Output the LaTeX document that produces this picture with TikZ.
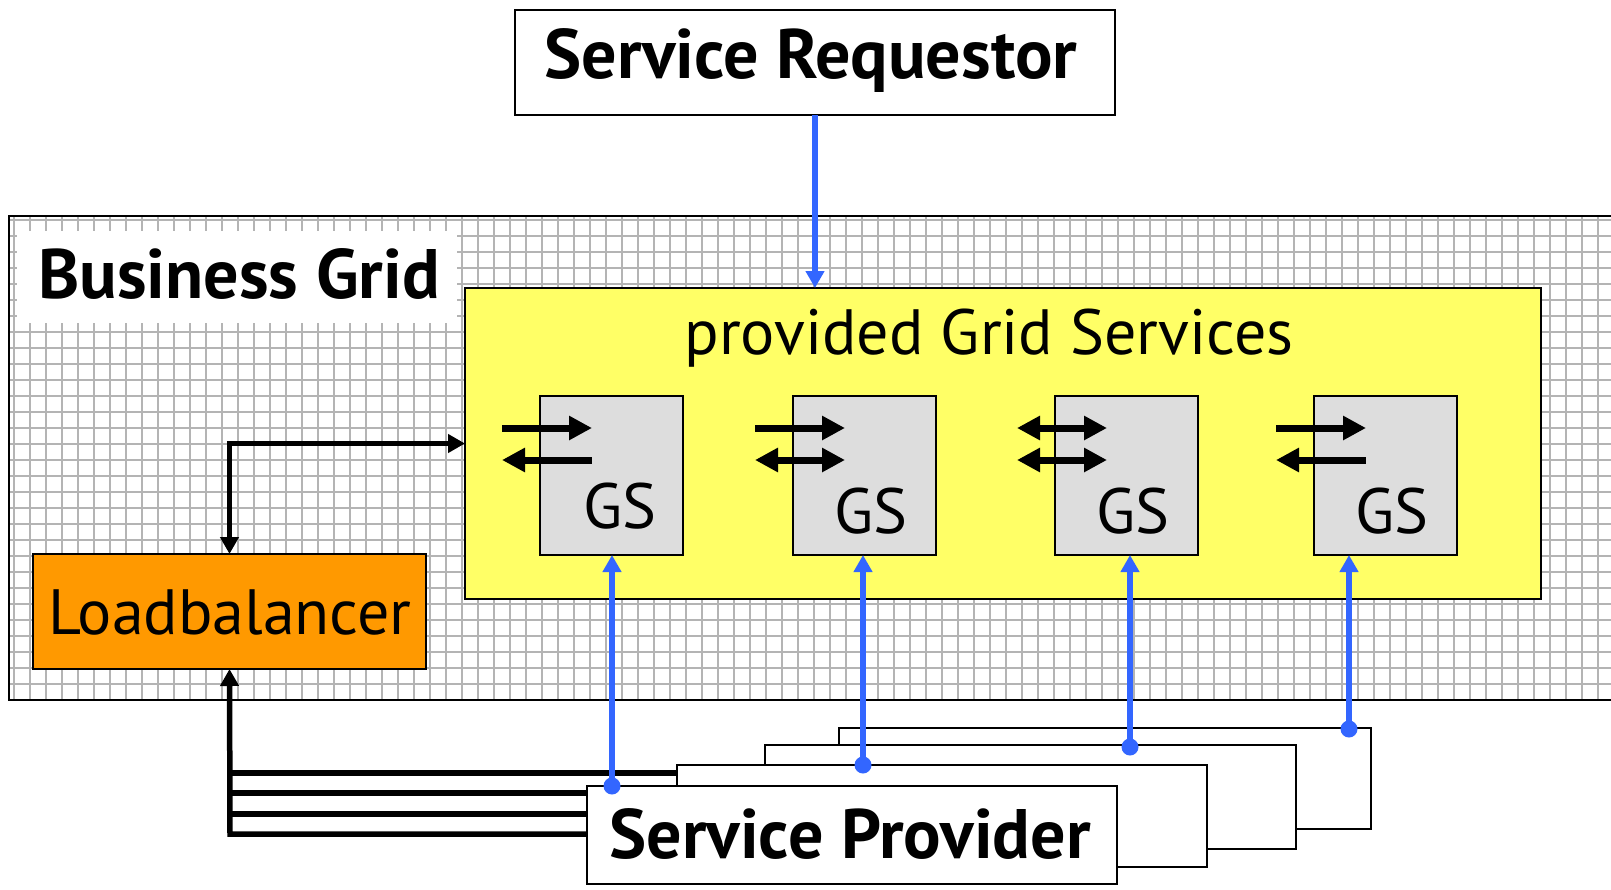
\documentclass[tikz,border=0pt]{standalone}
\usepackage{fontspec}
\setmainfont{PT Sans}
\usetikzlibrary{arrows.meta,calc}
\definecolor{linkblue}{HTML}{3366FF}
\definecolor{svcyellow}{HTML}{FFFF66}
\definecolor{gsgray}{HTML}{DDDDDD}
\definecolor{lborange}{HTML}{FF9900}
\definecolor{gridgray}{HTML}{B4B4B4}
\begin{document}
\begin{tikzpicture}[x=1pt,y=-1pt,
  box/.style={draw=black,line width=1.5pt,inner sep=0pt,outer sep=0pt,anchor=north west},
  boldlabel/.style={font=\fontsize{70}{76}\selectfont\bfseries,inner sep=0pt,anchor=base},
  plainlabel/.style={font=\fontsize{64}{70}\selectfont,inner sep=0pt,anchor=base},
  gridline/.style={draw=gridgray,line width=1.8pt},
  blueline/.style={draw=linkblue,line width=6pt,-{Triangle[length=17pt,width=18pt]}},
  bluedot/.style={circle,fill=linkblue,inner sep=0pt,minimum size=17pt},
  blkline/.style={draw=black,line width=5.5pt},
  fatarrow/.style={draw=black,line width=7pt},
  fattip/.tip={Triangle[length=23pt,width=23pt]},
  smalltip/.tip={Triangle[length=17pt,width=18pt]}]
\useasboundingbox (0,0) rectangle (1611,889);
% Business grid area
\node[box,fill=white,draw=none,minimum width=1620pt,minimum height=484pt] (bg) at (9,216) {};
\begin{scope}
\clip (9,216) rectangle (1625,700);
\foreach \gx in {14,30,...,1620} \draw[gridline] (\gx,216) -- (\gx,700);
\foreach \gy in {220,236,...,690} \draw[gridline] (9,\gy) -- (1625,\gy);
\end{scope}
\draw[line width=2pt] (bg.north east) -- (bg.north west) -- (bg.south west) -- (bg.south east);
\node[box,draw=none,fill=white,minimum width=440pt,minimum height=92pt] (bglabelbox) at (17,231) {};
\node[boldlabel,anchor=base west] (bglabel) at (38,298) {Business Grid};
% Service requestor
\node[box,fill=white,minimum width=600pt,minimum height=105pt] (req) at (515,10) {};
\node[boldlabel] (reqlabel) at (811,78) {Service Requestor};
% provided grid services
\node[box,fill=svcyellow,minimum width=1076pt,minimum height=311pt] (svc) at (465,288) {};
\node[plainlabel] (svclabel) at (989,354) {provided Grid Services};
\foreach \i/\x in {1/540,2/793,3/1055,4/1314}{
  \node[box,fill=gsgray,minimum width=143pt,minimum height=159pt] (gs\i) at (\x,396) {};
}
\node[plainlabel] (gs1label) at (620,528) {GS};
\node[plainlabel] (gs2label) at (871,533) {GS};
\node[plainlabel] (gs3label) at (1133,533) {GS};
\node[plainlabel] (gs4label) at (1392,533) {GS};
% small exchange arrows
\draw[fatarrow,-fattip] ($(gs1.north west)+(-38,32)$) -- ($(gs1.north west)+(52,32)$);
\draw[fatarrow,fattip-] ($(gs1.north west)+(-38,64)$) -- ($(gs1.north west)+(52,64)$);
\draw[fatarrow,-fattip] ($(gs2.north west)+(-38,32)$) -- ($(gs2.north west)+(52,32)$);
\draw[fatarrow,fattip-fattip] ($(gs2.north west)+(-38,64)$) -- ($(gs2.north west)+(52,64)$);
\draw[fatarrow,fattip-fattip] ($(gs3.north west)+(-38,32)$) -- ($(gs3.north west)+(52,32)$);
\draw[fatarrow,fattip-fattip] ($(gs3.north west)+(-38,64)$) -- ($(gs3.north west)+(52,64)$);
\draw[fatarrow,-fattip] ($(gs4.north west)+(-38,32)$) -- ($(gs4.north west)+(52,32)$);
\draw[fatarrow,fattip-] ($(gs4.north west)+(-38,64)$) -- ($(gs4.north west)+(52,64)$);
% loadbalancer
\node[box,fill=lborange,minimum width=393pt,minimum height=115pt] (lb) at (33,554) {};
\node[plainlabel] (lblabel) at (230,634) {Loadbalancer};
\draw[blkline,smalltip-smalltip] (lb.north) |- (svc.west);
% service provider stack (lines first)
\coordinate (h1) at (230,773);
\coordinate (h2) at (230,793);
\coordinate (h3) at (230,814);
\coordinate (h4) at (230,834);
\node[box,minimum width=532pt,minimum height=101pt] (spD) at (839,728) {};
\draw[blkline] (h1) -- (h1 -| spD.west);
\draw[blkline] (h2) -- (h2 -| spD.west);
\draw[blkline] (h3) -- (h3 -| spD.west);
\draw[blkline,-smalltip] (h4 -| spD.west) -- (h4) -- (lb.south);
\node[box,fill=white,minimum width=532pt,minimum height=101pt] (spD2) at (839,728) {};
\node[box,fill=white,minimum width=531pt,minimum height=104pt] (spC) at (765,745) {};
\node[box,fill=white,minimum width=530pt,minimum height=102pt] (spB) at (677,765) {};
\node[box,fill=white,minimum width=530pt,minimum height=98pt] (spA) at (587,786) {};
\node[boldlabel] (splabel) at (850,858) {Service Provider};
% blue links
\node[bluedot] (d1) at (612,786) {};
\node[bluedot] (d2) at (863,765) {};
\node[bluedot] (d3) at (1130,747) {};
\node[bluedot] (d4) at (1349,729) {};
\draw[blueline] (d1.center) -- (d1.center |- gs1.south);
\draw[blueline] (d2.center) -- (d2.center |- gs2.south);
\draw[blueline] (d3.center) -- (d3.center |- gs3.south);
\draw[blueline] (d4.center) -- (d4.center |- gs4.south);
\draw[blueline] (req.south) -- (req.south |- svc.north);
\end{tikzpicture}
\end{document}
